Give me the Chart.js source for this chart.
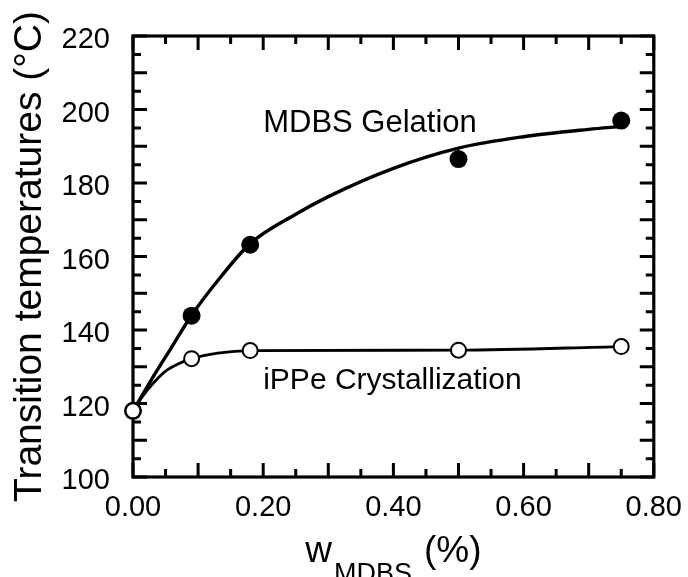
<!DOCTYPE html>
<html>
<head>
<meta charset="utf-8">
<script src="https://cdn.jsdelivr.net/npm/chart.js@4.4.1/dist/chart.umd.min.js"></script>
<style>
  body { margin: 0; background: #fff; }
  canvas { display: block; }
</style>
</head>
<body>
<canvas id="myChart" width="688" height="577"></canvas>
<script>
// MDBS content of the samples (%)
var wMDBS = [0, 0.09, 0.18, 0.50, 0.75];
// MDBS gelation temperature, filled circles (°C)
var tGelation = [118, 143.9, 163.2, 186.5, 197.0];
// iPPe crystallization temperature, open circles (°C)
var tCryst = [118, 132.2, 134.4, 134.5, 135.5];

// smooth guide curves drawn through each series
var gelCurveX = [0, 0.03, 0.06, 0.09, 0.135, 0.18, 0.25, 0.30, 0.40, 0.50, 0.60, 0.70, 0.75];
var gelCurveY = [118, 127, 135.5, 144, 154.5, 163.5, 171.5, 176.3, 184, 189.5, 192.6, 194.6, 195.4];
var crystCurveX = [0, 0.015, 0.03, 0.05, 0.07, 0.09, 0.13, 0.18, 0.50, 0.75];
var crystCurveY = [118, 122, 125.3, 128.8, 130.8, 132.2, 133.7, 134.4, 134.5, 135.5];

// labelled ticks
var xLabels = ['0.00', '0.20', '0.40', '0.60', '0.80'];
var yLabels = ['100', '120', '140', '160', '180', '200', '220'];

var F = '"Liberation Sans", Arial, Helvetica, sans-serif';

function pts(xs, ys) {
  return xs.map(function (x, i) { return { x: x, y: ys[i] }; });
}

// box round the plot with inward ticks on all four sides
var framePlugin = {
  id: 'frame',
  beforeDatasetsDraw: function (chart) {
    var ctx = chart.ctx, ca = chart.chartArea;
    var xs = chart.scales.x, ys = chart.scales.y;
    ctx.save();
    ctx.strokeStyle = '#000';
    ctx.lineWidth = 3.2;
    ctx.strokeRect(ca.left, ca.top, ca.right - ca.left, ca.bottom - ca.top);
    ctx.beginPath();
    ctx.lineWidth = 3;
    xs.ticks.forEach(function (t) {
      var px = xs.getPixelForValue(t.value);
      var len = Math.round(t.value * 100) % 10 === 0 ? 14 : 8;
      ctx.moveTo(px, ca.bottom); ctx.lineTo(px, ca.bottom - len);
      ctx.moveTo(px, ca.top); ctx.lineTo(px, ca.top + len);
    });
    ys.ticks.forEach(function (t) {
      var py = ys.getPixelForValue(t.value);
      var len = Math.round(t.value) % 10 === 0 ? 14 : 8;
      ctx.moveTo(ca.left, py); ctx.lineTo(ca.left + len, py);
      ctx.moveTo(ca.right, py); ctx.lineTo(ca.right - len, py);
    });
    ctx.stroke();
    ctx.restore();
  },
  afterDraw: function (chart) {
    var ctx = chart.ctx, ca = chart.chartArea;
    var xs = chart.scales.x, ys = chart.scales.y;
    ctx.save();
    ctx.fillStyle = '#000';
    ctx.textBaseline = 'alphabetic';
    ctx.textAlign = 'left';

    // series names inside the plot
    ctx.font = '31px ' + F;
    ctx.fillText('MDBS Gelation', xs.getPixelForValue(0.2), ys.getPixelForValue(194));
    ctx.font = '30px ' + F;
    ctx.fillText('iPPe Crystallization', xs.getPixelForValue(0.2), ys.getPixelForValue(123.9));

    // x axis title with subscript
    ctx.font = '37px ' + F;
    var wW = ctx.measureText('w').width;
    var wP = ctx.measureText('(%)').width;
    ctx.font = '27px ' + F;
    var wS = ctx.measureText('MDBS').width;
    var total = wW + 2 + wS + 12 + wP;
    var x0 = (ca.left + ca.right) / 2 - total / 2;
    ctx.font = '37px ' + F;
    ctx.fillText('w', x0, 562);
    ctx.fillText('(%)', x0 + wW + 2 + wS + 12, 562);
    ctx.font = '27px ' + F;
    ctx.fillText('MDBS', x0 + wW + 2, 582);
    ctx.restore();
  }
};

var ctx = document.getElementById('myChart').getContext('2d');

var myChart = new Chart(ctx, {
  type: 'scatter',
  data: {
    datasets: [
      {
        label: 'iPPe Crystallization',
        data: pts(wMDBS, tCryst),
        pointRadius: 7.5,
        pointBackgroundColor: '#fff',
        pointBorderColor: '#000',
        pointBorderWidth: 2,
        showLine: false,
        clip: false,
        order: 0
      },
      {
        label: 'MDBS Gelation',
        data: pts(wMDBS, tGelation),
        pointRadius: 9,
        pointBackgroundColor: '#000',
        pointBorderColor: '#000',
        pointBorderWidth: 0,
        showLine: false,
        clip: false,
        order: 1
      },
      {
        type: 'line',
        data: pts(gelCurveX, gelCurveY),
        borderColor: '#000',
        borderWidth: 3.4,
        pointRadius: 0,
        fill: false,
        cubicInterpolationMode: 'monotone',
        clip: false,
        order: 2
      },
      {
        type: 'line',
        data: pts(crystCurveX, crystCurveY),
        borderColor: '#000',
        borderWidth: 2.8,
        pointRadius: 0,
        fill: false,
        cubicInterpolationMode: 'monotone',
        clip: false,
        order: 3
      }
    ]
  },
  options: {
    responsive: false,
    animation: false,
    events: [],
    layout: { padding: { left: 0, right: 34, top: 36, bottom: 0 } },
    plugins: {
      legend: { display: false },
      tooltip: { enabled: false }
    },
    scales: {
      x: {
        type: 'linear',
        min: 0,
        max: 0.8,
        grid: { display: false },
        border: { display: false },
        ticks: {
          stepSize: 0.05,
          autoSkip: false,
          maxRotation: 0,
          padding: 6,
          color: '#000',
          font: { family: F, size: 29 },
          callback: function (v) {
            var s = v.toFixed(2);
            return xLabels.indexOf(s) >= 0 ? s : '';
          }
        },
        afterFit: function (scale) { scale.height = 100; }
      },
      y: {
        type: 'linear',
        min: 100,
        max: 220,
        grid: { display: false },
        border: { display: false },
        title: {
          display: true,
          text: 'Transition temperatures (°C)',
          color: '#000',
          font: { family: F, size: 39 },
          padding: { top: 7, bottom: 0 }
        },
        ticks: {
          stepSize: 5,
          autoSkip: false,
          padding: 15,
          labelOffset: 4,
          color: '#000',
          font: { family: F, size: 29 },
          callback: function (v) {
            var s = String(Math.round(v));
            return yLabels.indexOf(s) >= 0 ? s : '';
          }
        },
        afterFit: function (scale) { scale.width = 133; }
      }
    }
  },
  plugins: [framePlugin]
});
</script>
</body>
</html>
